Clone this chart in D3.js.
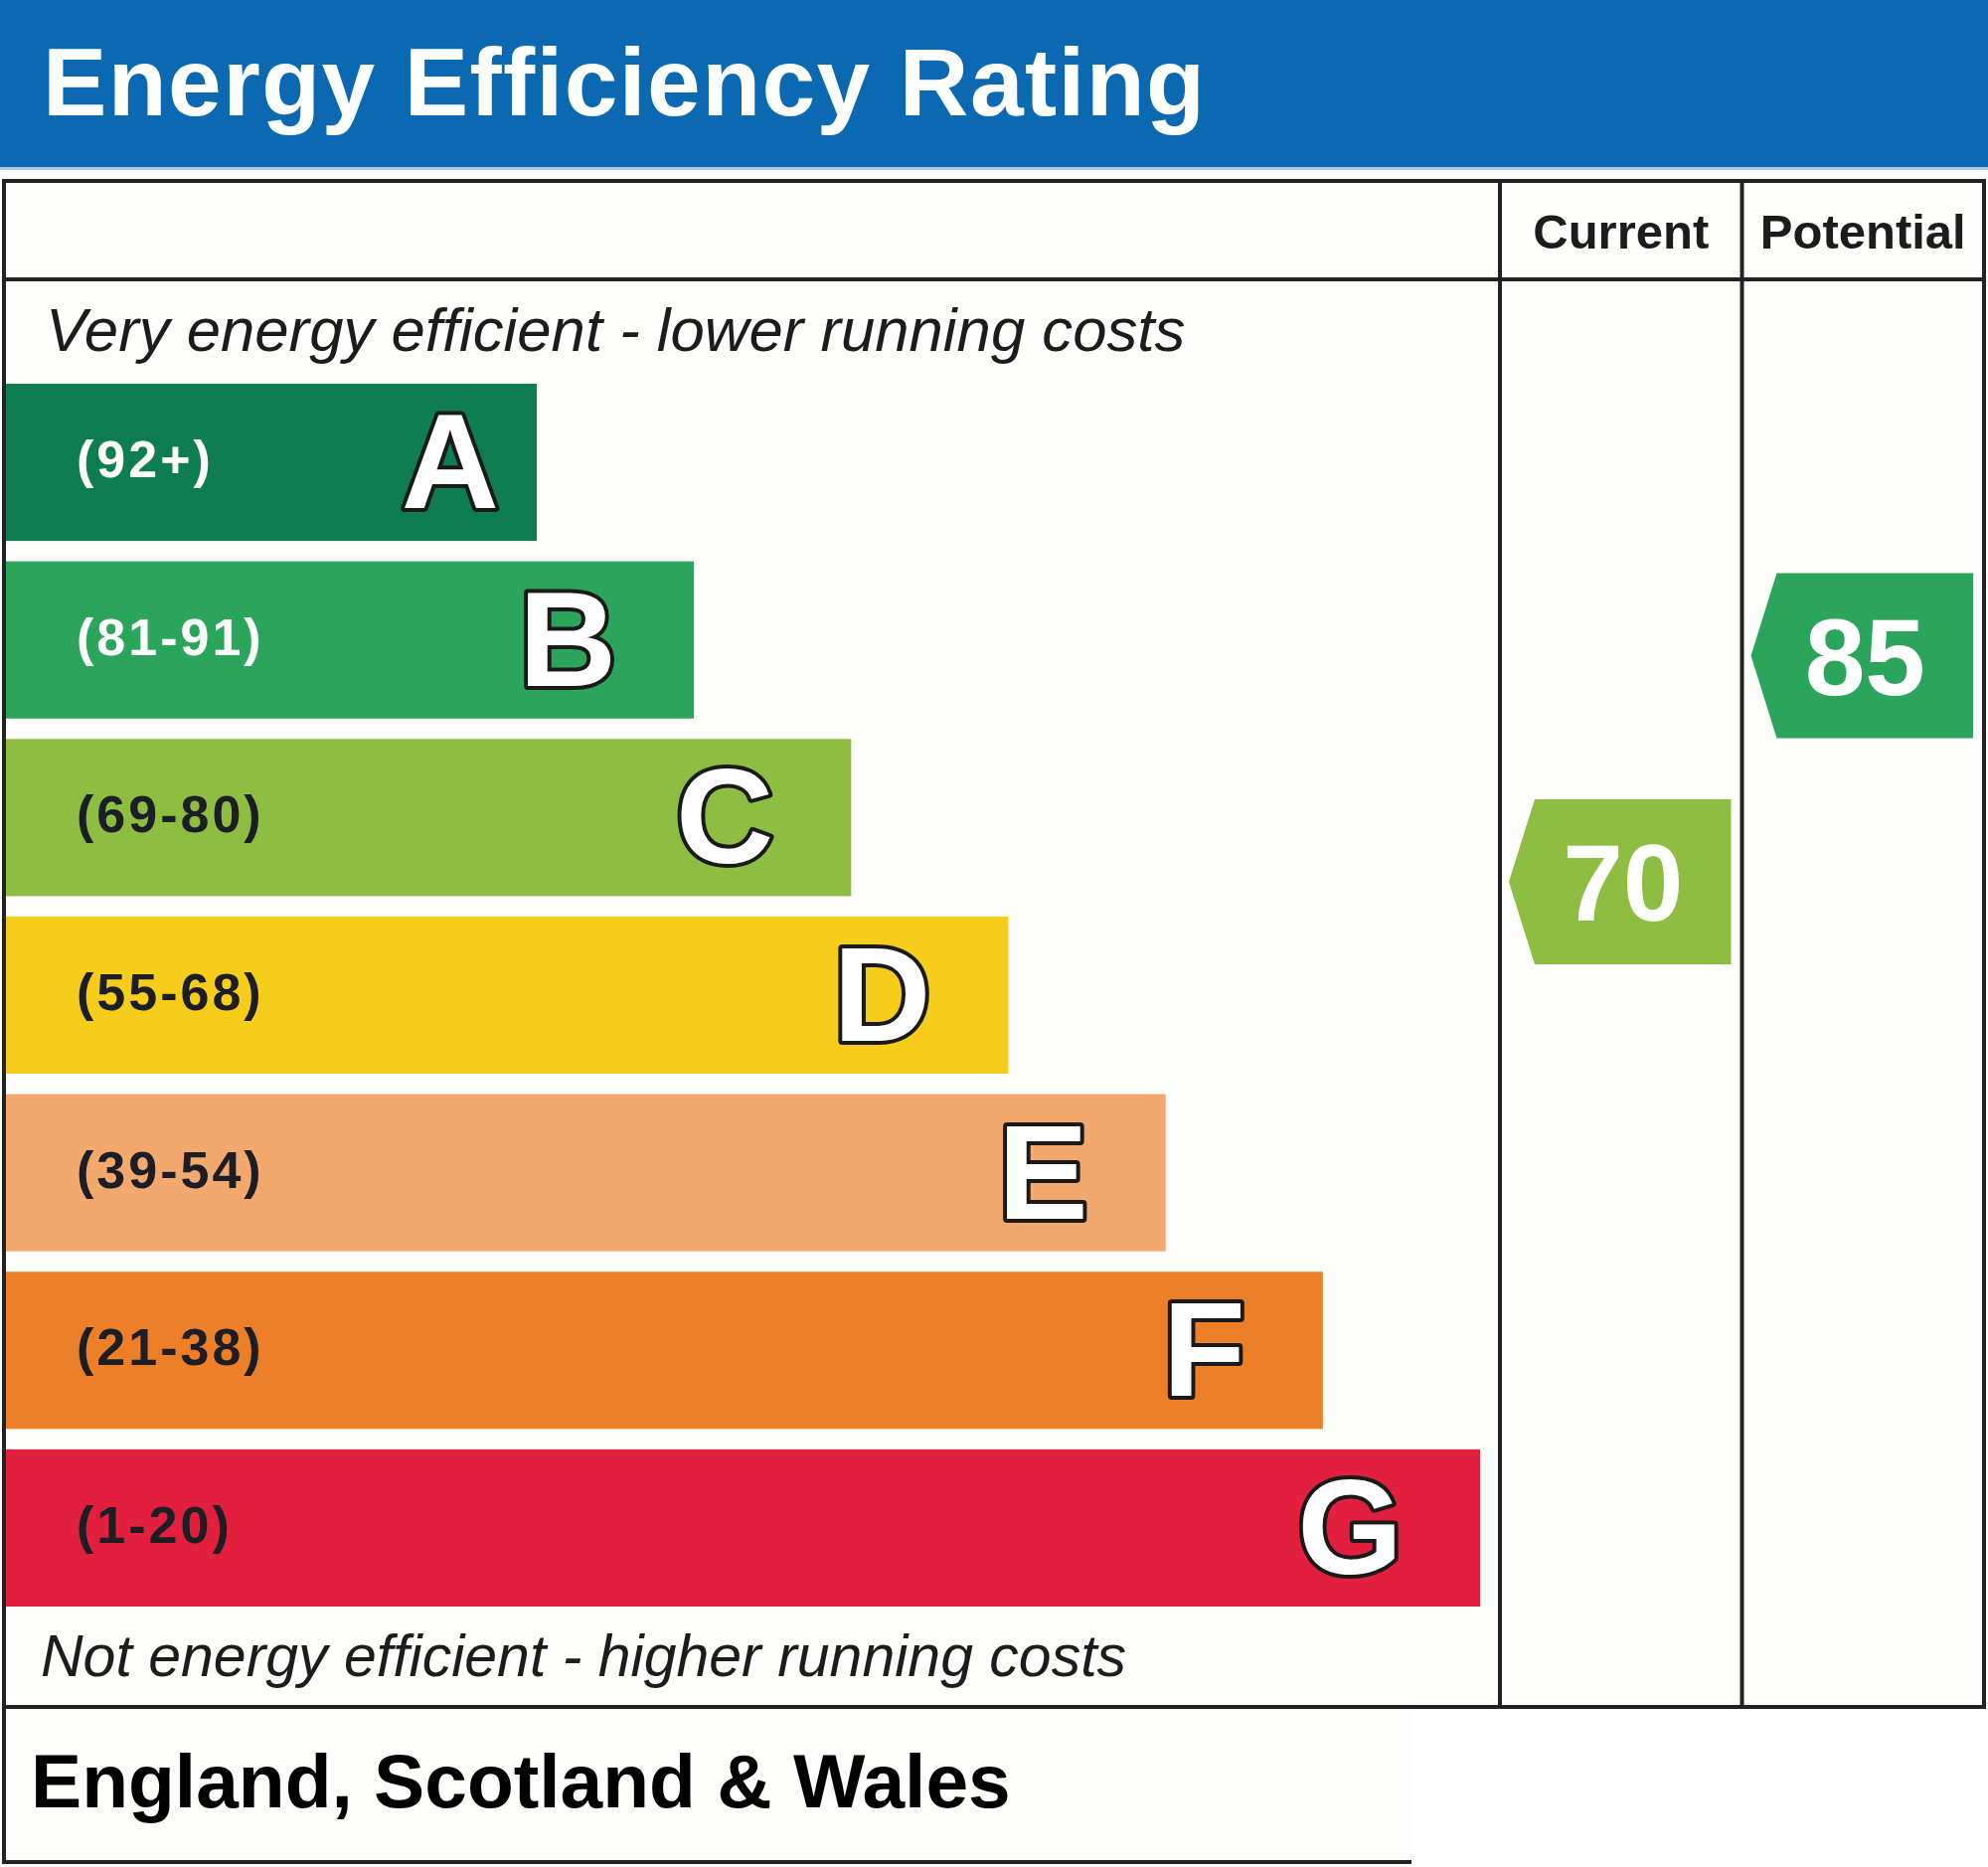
<!DOCTYPE html>
<html>
<head>
<meta charset="utf-8">
<script src="https://cdn.jsdelivr.net/npm/d3@7"></script>
<style>
  html, body { margin: 0; padding: 0; background: #ffffff; }
  svg { display: block; }
</style>
</head>
<body>
<svg id="chart"></svg>
<script>
// rating bands, top (best) to bottom (worst)
const bands = ["A", "B", "C", "D", "E", "F", "G"];
const bandRanges = ["(92+)", "(81-91)", "(69-80)", "(55-68)", "(39-54)", "(21-38)", "(1-20)"];
const bandMin = [92, 81, 69, 55, 39, 21, 1];
const bandMax = [100, 91, 80, 68, 54, 38, 20];
const bandColors = ["#0f7d52", "#2ba55b", "#8dbd41", "#f6cd1a", "#f3a96d", "#ec7f28", "#e21f3c"];

// current / potential ratings
const columns = ["Current", "Potential"];
const ratings = [70, 85];

const width = 2000, height = 1878;
const font = "'Liberation Sans', Arial, sans-serif";

const svg = d3.select("#chart")
  .attr("width", width)
  .attr("height", height)
  .attr("viewBox", [0, 0, width, height])
  .style("font-family", font);

// table frame
const frameL = 4, frameR = 1996, frameT = 182, headRow = 281, frameB = 1717;
const footBottom = 1873, footRight = 1418;

// scales
const y = d3.scaleBand()
  .domain(bands)
  .range([386, 1616])
  .paddingInner(0.115)
  .paddingOuter(0);

const barEnd = d3.scalePoint()
  .domain(bands)
  .range([540, 1489]);

const col = d3.scaleBand()
  .domain(columns)
  .range([1509, frameR]);

// maps a rating to a vertical position inside its band
function ratingY(v) {
  const i = bands.findIndex((b, k) => v >= bandMin[k] && v <= bandMax[k]);
  const y0 = y(bands[i]);
  const s = d3.scaleLinear()
    .domain([bandMax[i], bandMin[i]])
    .range([y0, y0 + y.bandwidth()]);
  return { y: s(v), band: i };
}

// header
svg.append("rect")
  .attr("x", 0).attr("y", 0)
  .attr("width", width).attr("height", 168)
  .attr("fill", "#0b69b2");
svg.append("rect")
  .attr("x", 0).attr("y", 168)
  .attr("width", width).attr("height", 3)
  .attr("fill", "#a9c9e6");

svg.append("text")
  .attr("x", 43).attr("y", 116)
  .attr("fill", "#ffffff")
  .attr("font-size", 96.5)
  .attr("font-weight", "bold")
  .attr("letter-spacing", 1.4)
  .text("Energy Efficiency Rating");

// table background
svg.append("rect")
  .attr("x", frameL).attr("y", frameT)
  .attr("width", frameR - frameL).attr("height", frameB - frameT)
  .attr("fill", "#fdfdfb");
svg.append("rect")
  .attr("x", frameL).attr("y", frameB)
  .attr("width", footRight - frameL).attr("height", footBottom - frameB)
  .attr("fill", "#fdfdfb");

// bars
const bar = svg.append("g")
  .selectAll("g")
  .data(bands)
  .join("g");

bar.append("rect")
  .attr("x", frameL + 2)
  .attr("y", (d) => y(d))
  .attr("width", (d) => barEnd(d) - frameL - 2)
  .attr("height", y.bandwidth())
  .attr("fill", (d, i) => bandColors[i]);

bar.append("text")
  .attr("x", 77)
  .attr("y", (d) => y(d) + y.bandwidth() / 2 + 15)
  .attr("font-size", 52)
  .attr("font-weight", "bold")
  .attr("letter-spacing", 3)
  .attr("fill", (d, i) => (i < 2 ? "#ffffff" : "#1d1d26"))
  .text((d, i) => bandRanges[i]);

bar.append("text")
  .attr("x", (d, i) => barEnd(d) - (i === 0 ? 38 : 78))
  .attr("y", (d) => y(d) + y.bandwidth() / 2 + 46)
  .attr("text-anchor", "end")
  .attr("font-size", 136)
  .attr("font-weight", "bold")
  .attr("fill", "#ffffff")
  .attr("stroke", "#1a1a1a")
  .attr("stroke-width", 8)
  .attr("stroke-linejoin", "round")
  .attr("paint-order", "stroke")
  .text((d) => d);

// top / bottom captions
svg.append("text")
  .attr("x", 46).attr("y", 353)
  .attr("font-size", 61.7)
  .attr("font-style", "italic")
  .attr("fill", "#1c1c1c")
  .text("Very energy efficient - lower running costs");

svg.append("text")
  .attr("x", 41).attr("y", 1686)
  .attr("font-size", 59)
  .attr("font-style", "italic")
  .attr("fill", "#1c1c1c")
  .text("Not energy efficient - higher running costs");

// column headers
svg.append("g")
  .selectAll("text")
  .data(columns)
  .join("text")
  .attr("x", (d) => col(d) + col.bandwidth() / 2)
  .attr("y", 250)
  .attr("text-anchor", "middle")
  .attr("font-size", 49)
  .attr("font-weight", "bold")
  .attr("fill", "#1c1c1c")
  .text((d) => d);

// rating arrows
const arrowH = y.bandwidth() + 8;
const arrow = svg.append("g")
  .selectAll("g")
  .data(columns)
  .join("g");

arrow.append("path")
  .attr("d", (d, i) => {
    const p = ratingY(ratings[i]);
    const x0 = col(d) + 9, x1 = col(d) + col.bandwidth() - 11;
    const path = d3.path();
    path.moveTo(x0, p.y);
    path.lineTo(x0 + 26, p.y - arrowH / 2);
    path.lineTo(x1, p.y - arrowH / 2);
    path.lineTo(x1, p.y + arrowH / 2);
    path.lineTo(x0 + 26, p.y + arrowH / 2);
    path.closePath();
    return path.toString();
  })
  .attr("fill", (d, i) => bandColors[ratingY(ratings[i]).band]);

arrow.append("text")
  .attr("x", (d) => col(d) + (9 + col.bandwidth() - 11) / 2 + 3)
  .attr("y", (d, i) => ratingY(ratings[i]).y + 39)
  .attr("text-anchor", "middle")
  .attr("font-size", 109)
  .attr("font-weight", "bold")
  .attr("fill", "#ffffff")
  .text((d, i) => ratings[i]);

// footer
svg.append("text")
  .attr("x", 31).attr("y", 1818)
  .attr("font-size", 76.7)
  .attr("font-weight", "bold")
  .attr("fill", "#000000")
  .text("England, Scotland & Wales");

// frame lines
const lines = [
  [frameL, frameT, frameR, frameT],
  [frameL, headRow, frameR, headRow],
  [frameL, frameB, frameR, frameB],
  [frameL, footBottom, footRight, footBottom],
  [frameL, frameT, frameL, footBottom],
  [frameR, frameT, frameR, frameB],
  [col("Current"), frameT, col("Current"), frameB],
  [col("Potential"), frameT, col("Potential"), frameB],
];

svg.append("g")
  .selectAll("line")
  .data(lines)
  .join("line")
  .attr("x1", (d) => d[0]).attr("y1", (d) => d[1])
  .attr("x2", (d) => d[2]).attr("y2", (d) => d[3])
  .attr("stroke", "#222222")
  .attr("stroke-width", 4)
  .attr("stroke-linecap", "square");
</script>
</body>
</html>
